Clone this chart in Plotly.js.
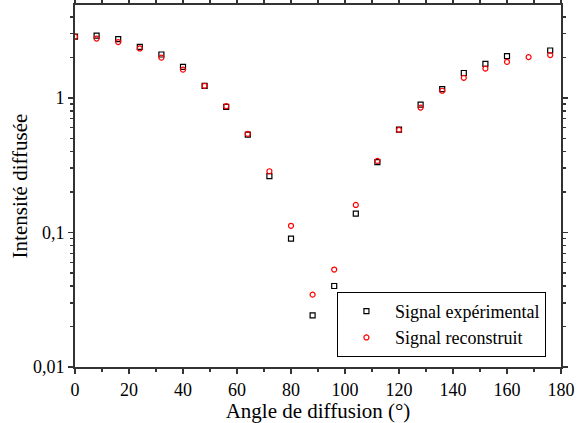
<!DOCTYPE html>
<html><head><meta charset="utf-8">
<script src="https://cdn.plot.ly/plotly-3.0.1.min.js"></script>
<style>body{margin:0;background:#fff}#c{width:578px;height:423px}</style>
</head><body><div id="c"></div>
<script>
const angles = [0,8,16,24,32,40,48,56,64,72,80,88,96,104,112,120,128,136,144,152,160,168,176];
const experimental = [2.85,2.9,2.73,2.39,2.10,1.70,1.23,0.857,0.533,0.262,0.090,0.0242,0.040,0.138,0.333,0.581,0.892,1.16,1.53,1.79,2.04,null,2.25];
const reconstructed = [2.85,2.76,2.6,2.33,1.99,1.62,1.23,0.867,0.54,0.285,0.112,0.0345,0.053,0.160,0.340,0.578,0.847,1.13,1.41,1.65,1.85,2.01,2.08];
const yTickVals = [0.01,0.1,1];
const yTickText = ["0,01","0,1","1"];
const xTickVals = [0,20,40,60,80,100,120,140,160,180];

const FAM = "Liberation Serif";
const traces = [
  {x: angles, y: experimental, name: "Signal expérimental", type: "scatter", mode: "markers",
   marker: {symbol: "square-open", size: 5, color: "#000", line: {width: 1.2}}},
  {x: angles, y: reconstructed, name: "Signal reconstruit", type: "scatter", mode: "markers",
   marker: {symbol: "circle-open", size: 5, color: "#ff0000", line: {width: 1.2}}}
];
const layout = {
  width: 578, height: 423,
  margin: {l: 75, r: 17, t: 5, b: 56},
  paper_bgcolor: "#fff", plot_bgcolor: "#fff",
  font: {family: FAM, size: 18, color: "#000"},
  showlegend: true,
  legend: {x: 0.969, y: 0.028, xanchor: "right", yanchor: "bottom", bordercolor: "#000", borderwidth: 1,
           bgcolor: "#fff", font: {family: FAM, size: 18, color: "#000"}, tracegroupgap: 0, itemwidth: 47},
  xaxis: {
    range: [0, 180], showgrid: false, zeroline: false,
    showline: true, linecolor: "#333", linewidth: 2, mirror: "ticks",
    ticks: "outside", ticklen: 5, tickwidth: 1.5, tickcolor: "#333",
    tickvals: xTickVals,
    minor: {tickvals: [10,30,50,70,90,110,130,150,170], ticks: "outside", ticklen: 3, tickcolor: "#333", tickwidth: 1.5},
    tickfont: {family: FAM, size: 18, color: "#000"},
    title: {text: "Angle de diffusion (°)", font: {family: FAM, size: 21, color: "#000"}}
  },
  yaxis: {
    type: "log", range: [-2, Math.log10(4.9)], showgrid: false, zeroline: false,
    showline: true, linecolor: "#333", linewidth: 2, mirror: "ticks",
    ticks: "outside", ticklen: 5, tickwidth: 1.5, tickcolor: "#333",
    tickvals: yTickVals, ticktext: yTickText,
    minor: {tickvals: [0.02,0.03,0.04,0.05,0.06,0.07,0.08,0.09,0.2,0.3,0.4,0.5,0.6,0.7,0.8,0.9,2,3,4],
            ticks: "outside", ticklen: 3, tickcolor: "#333", tickwidth: 1.5},
    tickfont: {family: FAM, size: 18, color: "#000"},
    title: {text: "Intensité diffusée", font: {family: FAM, size: 21, color: "#000"}, standoff: 0}
  }
};
Plotly.newPlot("c", traces, layout, {displayModeBar: false, staticPlot: true});
</script></body></html>
